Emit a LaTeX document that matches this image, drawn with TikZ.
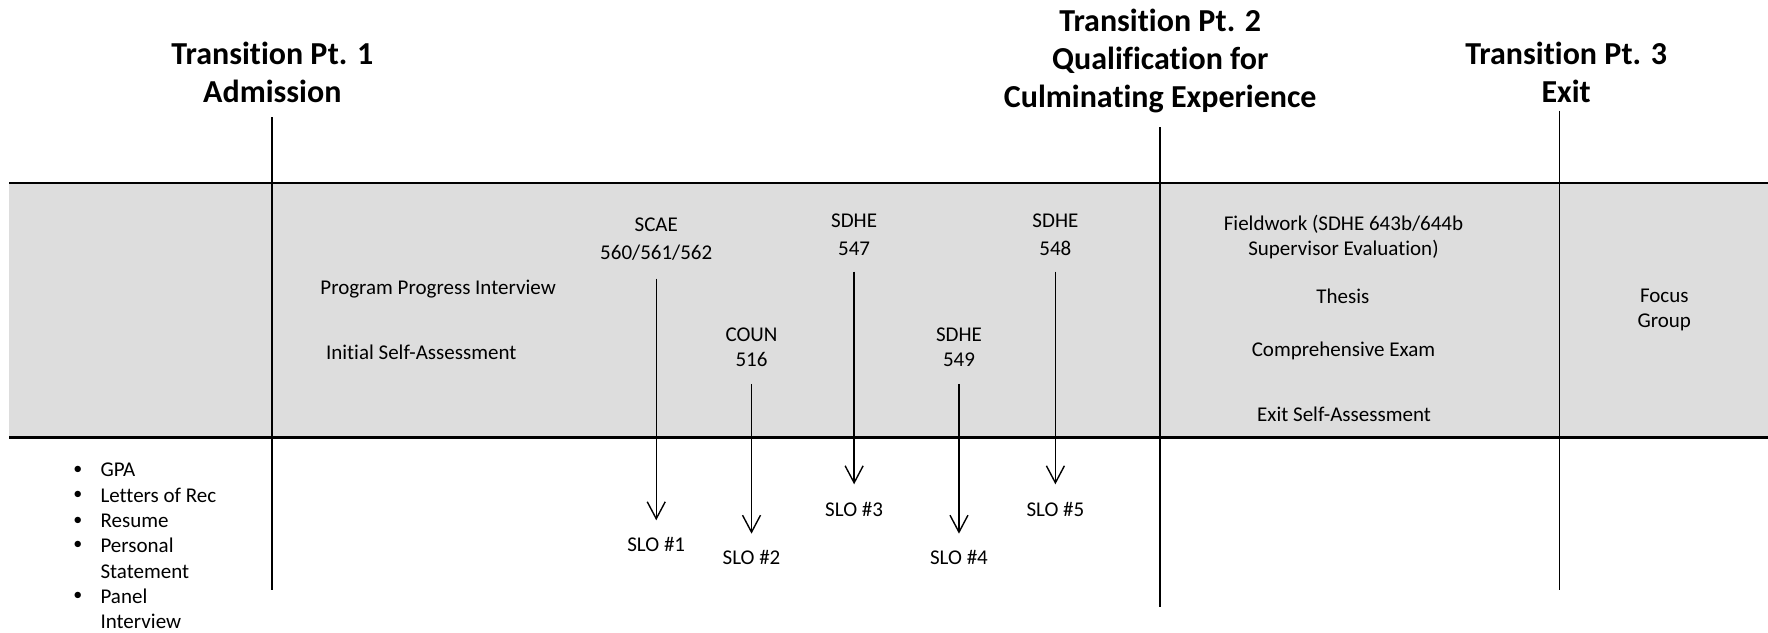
\documentclass[tikz,border=0pt]{standalone}
\usepackage{fontspec}
\setmainfont{Carlito}[Ligatures={NoCommon,NoRequired,NoContextual}]
\usetikzlibrary{arrows.meta}
\definecolor{bandgray}{RGB}{221,221,221}
\begin{document}
\begin{tikzpicture}[x=1.1276pt,y=-1.1276pt,
  title/.style={font=\bfseries\fontsize{32}{38.4}\selectfont, align=center, inner sep=0pt},
  body/.style={font=\fontsize{21}{25}\selectfont, align=center, inner sep=0pt},
  bodywide/.style={font=\fontsize{21}{28.2}\selectfont, align=center, inner sep=0pt},
  divider/.style={line width=1.6pt},
  bandline/.style={line width=2.3pt},
  arr/.style={line width=1.4pt, -{Straight Barb[length=17pt,width=18pt,line width=1.4pt]}}]
\useasboundingbox (0,0) rectangle (1568,561);
% band
\fill[bandgray] (8,162) rectangle (1568,388);
\coordinate (bl1) at (8,162); \coordinate (br1) at (1568,162);
\coordinate (bl2) at (8,388); \coordinate (br2) at (1568,388);
\draw[bandline] (bl1) -- (br1);
\draw[bandline] (bl2) -- (br2);
% titles
\node[title] (t1) at (241.5,64) {Transition Pt. 1\\Admission};
\node[title] (t2) at (1029,54) {Transition Pt. 2\\Qualification for\\Culminating Experience};
\node[title] (t3) at (1389,64) {Transition Pt. 3\\Exit};
% dividers
\coordinate (v1a) at (241,104); \coordinate (v1b) at (241,523);
\coordinate (v2a) at (1029,113); \coordinate (v2b) at (1029,538);
\coordinate (v3a) at (1383,98); \coordinate (v3b) at (1383,523);
\draw[divider] (v1a) -- (v1b);
\draw[divider] (v2a) -- (v2b);
\draw[divider] (v3a) -- (v3b);
% left band texts
\node[body, anchor=west] (ppi) at (284,256) {Program Progress Interview};
\node[body, anchor=west] (isa) at (289,312) {Initial Self-Assessment};
% courses
\node[bodywide] (scae) at (582,212) {SCAE\\560/561/562};
\node[body] (coun) at (666.5,308) {COUN\\516};
\node[bodywide] (s547) at (757.5,208) {SDHE\\547};
\node[body] (s549) at (850.5,308) {SDHE\\549};
\node[bodywide] (s548) at (936,208) {SDHE\\548};
% SLOs
\node[body] (slo1) at (582,483) {SLO \#1};
\node[body] (slo2) at (666.5,494) {SLO \#2};
\node[body] (slo3) at (757.5,452) {SLO \#3};
\node[body] (slo4) at (850.5,494) {SLO \#4};
\node[body] (slo5) at (936,452) {SLO \#5};
\draw[arr, shorten <=18pt, shorten >=17pt] (scae) -- (slo1);
\draw[arr, shorten <=17pt, shorten >=16pt] (coun) -- (slo2);
\draw[arr, shorten <=16pt, shorten >=18pt] (s547) -- (slo3);
\draw[arr, shorten <=17pt, shorten >=16pt] (s549) -- (slo4);
\draw[arr, shorten <=16pt, shorten >=18pt] (s548) -- (slo5);
% culminating
\node[body] (fw) at (1191.5,210) {Fieldwork (SDHE 643b/644b\\Supervisor Evaluation)};
\node[body] (th) at (1191,263) {Thesis};
\node[body] (ce) at (1191.5,311.5) {Comprehensive Exam};
\node[body] (esa) at (1192,367) {Exit Self-Assessment};
\node[body] (fg) at (1476,275) {Focus\\Group};
% bullets
\foreach \n/\y/\t/\b in {1/417/GPA/1, 2/439/Letters of Rec/1, 3/462/Resume/1, 4/484/Personal/1, 5/507/Statement/0, 6/529/Panel/1, 7/551/Interview/0}{
  \node[body, anchor=west] (li\n) at (89,\y) {\t};
  \ifnum\b=1 \node[body, font=\fontsize{18}{20}\selectfont] (bu\n) at (69,\y) {•};\fi
}
\end{tikzpicture}
\end{document}
